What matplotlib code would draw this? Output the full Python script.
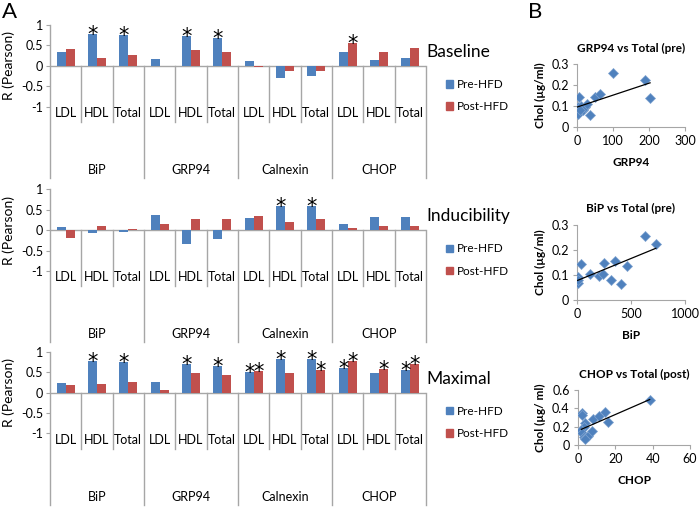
import numpy as np
import matplotlib
matplotlib.use('Agg')
import matplotlib.pyplot as plt
from matplotlib.patches import Patch
from matplotlib.ticker import FuncFormatter
from matplotlib.transforms import blended_transform_factory

plt.rcParams['font.family'] = ['Lato', 'DejaVu Sans']

# ---- data ----
proteins = ['BiP', 'GRP94', 'Calnexin', 'CHOP']
lipids = ['LDL', 'HDL', 'Total']

baseline_pre = [0.33, 0.77, 0.75, 0.16, 0.74, 0.69, 0.12, -0.31, -0.25, 0.34, 0.13, 0.19]
baseline_post = [0.41, 0.18, 0.27, 0.0, 0.39, 0.34, -0.03, -0.13, -0.12, 0.55, 0.33, 0.43]
baseline_star_pre = [1, 2, 4, 5]
baseline_star_post = [9]

induc_pre = [0.07, -0.06, -0.04, 0.37, -0.33, -0.22, 0.29, 0.59, 0.59, 0.16, 0.31, 0.31]
induc_post = [-0.20, 0.10, 0.03, 0.15, 0.26, 0.27, 0.35, 0.20, 0.27, 0.04, 0.11, 0.10]
induc_star_pre = [7, 8]
induc_star_post = []

maximal_pre = [0.24, 0.77, 0.74, 0.25, 0.70, 0.66, 0.51, 0.81, 0.82, 0.59, 0.49, 0.55]
maximal_post = [0.18, 0.21, 0.25, 0.07, 0.49, 0.44, 0.52, 0.47, 0.54, 0.77, 0.57, 0.70]
maximal_star_pre = [1, 2, 4, 5, 6, 7, 8, 9, 11]
maximal_star_post = [6, 8, 9, 10, 11]

grp94_x = [0, 3, 3, 5, 12, 17, 22, 27, 35, 50, 65, 99, 188, 203, 8]
grp94_y = [0.086, 0.095, 0.062, 0.143, 0.100, 0.078, 0.094, 0.110, 0.057, 0.143, 0.156, 0.258, 0.224, 0.135, 0.078]

bip_x = [6, 6, 9, 37, 123, 200, 237, 252, 314, 348, 406, 462, 625, 730]
bip_y = [0.093, 0.067, 0.080, 0.144, 0.103, 0.096, 0.104, 0.147, 0.080, 0.156, 0.063, 0.137, 0.256, 0.223]

chop_x = [2.3, 2.0, 3.5, 3.0, 1.8, 2.3, 3.0, 4.0, 5.3, 7.4, 8.0, 11.0, 14.3, 16.0, 38.4, 3.5]
chop_y = [0.345, 0.327, 0.236, 0.200, 0.164, 0.127, 0.090, 0.080, 0.100, 0.156, 0.280, 0.320, 0.356, 0.255, 0.490, 0.070]

BLUE = '#4F81BD'
RED = '#C0504D'
GRAY = '#A6A6A6'
W, H = 700, 508
PX = 40.8  # pixels per unit of R

fig = plt.figure(figsize=(7, 5.08), dpi=100)


def rect(x0, y0, x1, y1):
    return [x0 / W, 1 - y1 / H, (x1 - x0) / W, (y1 - y0) / H]


def bar_panel(top, pre, post, star_pre, star_post, name):
    ax = fig.add_axes(rect(50, top, 426, top + 3.75 * PX))
    x = np.arange(12) + 0.5
    bw = 0.29
    ax.bar(x - bw / 2, pre, bw, color=BLUE, zorder=3)
    ax.bar(x + bw / 2, post, bw, color=RED, zorder=3)
    # asterisks: glyph sits high in the em box, so anchor baseline a bit below the bar top
    for i in star_pre:
        ax.text(x[i] - bw / 2, max(pre[i], 0) - 0.17, '*', ha='center', va='baseline',
                fontsize=15, family='DejaVu Sans', zorder=4)
    for i in star_post:
        ax.text(x[i] + bw / 2, max(post[i], 0) - 0.17, '*', ha='center', va='baseline',
                fontsize=15, family='DejaVu Sans', zorder=4)
    ax.set_xlim(0, 12)
    ax.set_ylim(-2.75, 1)
    for s in ['top', 'right', 'bottom']:
        ax.spines[s].set_visible(False)
    ax.spines['left'].set_color(GRAY)
    ax.spines['left'].set_linewidth(1)
    ax.set_xticks([])
    ax.set_yticks([-1, -0.5, 0, 0.5, 1])
    ax.yaxis.set_major_formatter(FuncFormatter(lambda v, p: '{:g}'.format(v)))
    ax.tick_params(axis='y', length=3, color=GRAY, labelsize=9, pad=2)
    ax.axhline(0, color=GRAY, lw=1, zorder=2)
    for i in range(1, 13):
        bottom = -2.75 if i % 3 == 0 else -1.38
        ax.plot([i, i], [0, bottom], color=GRAY, lw=1, clip_on=False)
    for i in range(12):
        ax.text(x[i], -1.16, lipids[i % 3], ha='center', va='center', fontsize=9)
    for g in range(4):
        ax.text(g * 3 + 1.5, -2.55, proteins[g], ha='center', va='center', fontsize=9)
    ax.text(9 / W, 0, 'R (Pearson)', transform=blended_transform_factory(fig.transFigure, ax.transData),
            rotation=90, ha='center', va='center', fontsize=10)
    ax.text(12.0, 0.34, name, ha='left', va='center', fontsize=12.5)
    handles = [Patch(color=BLUE, label='Pre-HFD'), Patch(color=RED, label='Post-HFD')]
    zero_px = top + PX
    ax.legend(handles=handles, loc='center left', frameon=False,
              bbox_to_anchor=(446 / W, 1 - (zero_px + 30) / H), bbox_transform=fig.transFigure,
              borderpad=0, borderaxespad=0, handlelength=0.6, handleheight=0.6,
              handletextpad=0.35, labelspacing=0.95, fontsize=8.5)
    return ax


bar_panel(25, baseline_pre, baseline_post, baseline_star_pre, baseline_star_post, 'Baseline')
bar_panel(189.3, induc_pre, induc_post, induc_star_pre, induc_star_post, 'Inducibility')
bar_panel(351.7, maximal_pre, maximal_post, maximal_star_pre, maximal_star_post, 'Maximal')


def scatter_panel(box, xs, ys, xlim, xticks, ylim, yticks, title, xlabel, ylabel):
    ax = fig.add_axes(rect(*box))
    ax.plot(xs, ys, 'D', color=BLUE, markersize=5.5, markeredgecolor='#7FA3D0',
            markeredgewidth=0.5, zorder=3)
    k, b = np.polyfit(xs, ys, 1)
    xx = np.array([min(xs), max(xs)])
    ax.plot(xx, k * xx + b, color='black', lw=0.9, zorder=4)
    ax.set_xlim(*xlim)
    ax.set_ylim(*ylim)
    ax.set_xticks(xticks)
    ax.set_yticks(yticks)
    fmt = FuncFormatter(lambda v, p: '{:g}'.format(v))
    ax.xaxis.set_major_formatter(fmt)
    ax.yaxis.set_major_formatter(fmt)
    for s in ['top', 'right']:
        ax.spines[s].set_visible(False)
    for s in ['left', 'bottom']:
        ax.spines[s].set_color(GRAY)
    ax.tick_params(length=3, color=GRAY, labelsize=9, pad=3)
    ax.set_title(title, fontsize=8.5, fontweight='bold', pad=9)
    ax.set_xlabel(xlabel, fontsize=8.5, fontweight='bold', labelpad=7)
    ax.set_ylabel(ylabel, fontsize=8.5, fontweight='bold', labelpad=4)
    return ax


scatter_panel((577, 64, 685, 126.5), grp94_x, grp94_y, (0, 300), [0, 100, 200, 300],
              (0, 0.3), [0, 0.1, 0.2, 0.3], 'GRP94 vs Total (pre)', 'GRP94', 'Chol (µg/ml)')
scatter_panel((577, 225, 685, 300), bip_x, bip_y, (0, 1000), [0, 500, 1000],
              (0, 0.3), [0, 0.1, 0.2, 0.3], 'BiP vs Total (pre)', 'BiP', 'Chol (µg/ml)')
scatter_panel((578, 390, 690, 445), chop_x, chop_y, (0, 60), [0, 20, 40, 60],
              (0, 0.6), [0, 0.2, 0.4, 0.6], 'CHOP vs Total (post)', 'CHOP', 'Chol (µg/ ml)')

fig.text(10 / W, 1 - 12 / H, 'A', fontsize=16, ha='center', va='center')
fig.text(535 / W, 1 - 12 / H, 'B', fontsize=16, ha='center', va='center')

fig.savefig('out.png', dpi=100)
